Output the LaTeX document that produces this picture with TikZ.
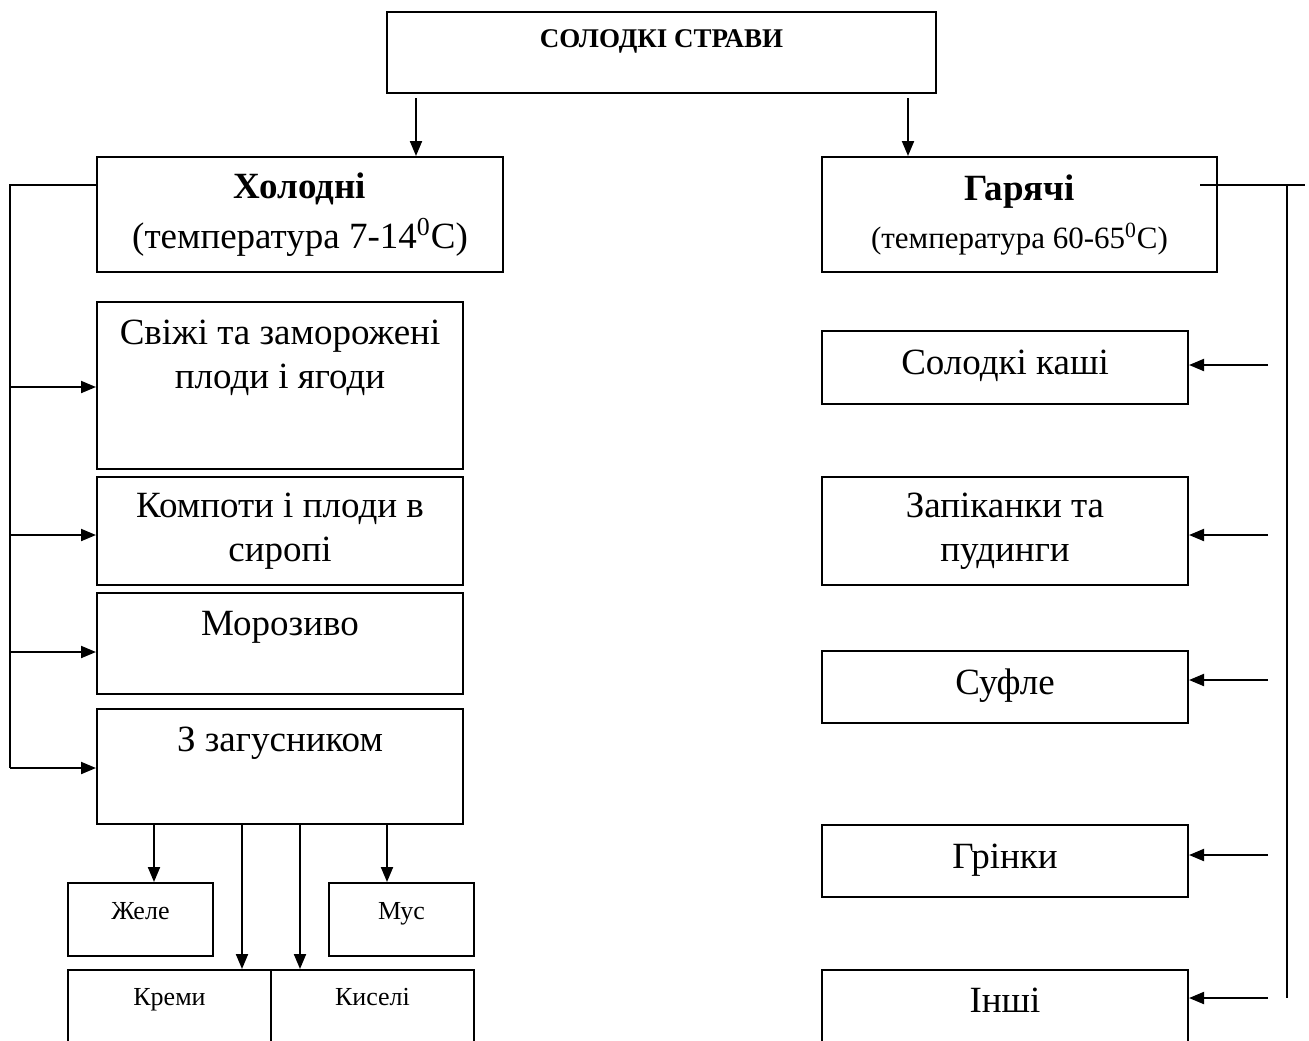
\documentclass[tikz,border=0pt]{standalone}
\usepackage{fontspec}
\setmainfont{Liberation Serif}
\usetikzlibrary{calc,arrows.meta}
\definecolor{ink}{HTML}{000000}
\tikzset{
  box/.style={draw=ink, line width=1pt, inner sep=0pt, align=center},
  con/.style={draw=ink, line width=1pt},
  arr/.style={con, -{Triangle[length=7.5pt,width=6pt]}},
  lab/.style={text=ink, font=\fontsize{18.5}{22}\selectfont, align=center},
  labs/.style={text=ink, font=\fontsize{13}{15}\selectfont, text height=0.95em, text depth=0.2em},
  one/.style={text height=0.9em, text depth=0.2em},
}
\begin{document}
\begin{tikzpicture}[x=0.5pt,y=-0.5pt]
  \useasboundingbox (0,0) rectangle (1309,1040);
  \clip (0,0) rectangle (1309,1040);
  % top and the two groups
  \node[box, minimum width=274.5pt, minimum height=40.5pt] (top) at (661.5,52.5) {};
  \node[labs, font=\fontsize{13.5}{15}\selectfont\bfseries] (top-t) at (661.5,40) {СОЛОДКІ СТРАВИ};
  \node[box, lab, minimum width=203pt, minimum height=57.5pt] (cold) at (300,214.5)
    {\textbf{Холодні}\\[3pt](температура 7-14\textsuperscript{0}C)};
  \node[box, lab, minimum width=197.5pt, minimum height=57.5pt] (hot) at (1019.5,214.5)
    {\textbf{Гарячі}\\[2pt]{\fontsize{15.5}{18}\selectfont(температура 60-65\textsuperscript{0}C)}};
  \coordinate (t1) at (416,98);
  \coordinate (t2) at (908,98);
  \draw[arr] (t1) -- (t1 |- cold.north);
  \draw[arr] (t2) -- (t2 |- hot.north);
  % cold dishes
  \node[box, minimum width=183pt, minimum height=83.5pt] (fresh) at (280,385.5) {};
  \node[lab] (fresh-t) at (280,358) {Свіжі та заморожені\\плоди і ягоди};
  \node[box, lab, minimum width=183pt, minimum height=54pt] (comp) at (280,531) {Компоти і плоди в\\сиропі};
  \node[box, minimum width=183pt, minimum height=50.5pt] (ice) at (280,643.5) {};
  \node[lab, one] (ice-t) at (280,628) {Морозиво};
  \node[box, minimum width=183pt, minimum height=57.5pt] (thick) at (280,766.5) {};
  \node[lab, one] (thick-t) at (280,744) {З загусником};
  \node[box, minimum width=72.5pt, minimum height=36.5pt] (jelly) at (140.5,919.5) {};
  \node[labs] (jelly-t) at (140.5,912) {Желе};
  \node[box, minimum width=72.5pt, minimum height=36.5pt] (mousse) at (401.5,919.5) {};
  \node[labs] (mousse-t) at (401.5,912) {Мус};
  \node[box, minimum width=101.5pt, minimum height=45pt] (cream) at (169.5,1015) {};
  \node[labs] (cream-t) at (169.5,998) {Креми};
  \node[box, minimum width=101.5pt, minimum height=45pt] (kissel) at (372.5,1015) {};
  \node[labs] (kissel-t) at (372.5,998) {Киселі};
  \coordinate (lb) at (10,185);
  \draw[con] (cold.west |- lb) -- (lb) -- (10,768);
  \foreach \n/\y in {fresh/387,comp/535,ice/652,thick/768}
    \draw[arr] (10,\y) -- (\n.west |- 0,\y);
  \foreach \n/\x in {jelly/154,cream/242,kissel/300,mousse/387}
    \draw[arr] (thick.south -| \x,0) -- (\n.north -| \x,0);
  % hot dishes
  \node[box, lab, one, minimum width=183pt, minimum height=36.5pt] (porr) at (1005,367.5) {Солодкі каші};
  \node[box, lab, minimum width=183pt, minimum height=54pt] (bake) at (1005,531) {Запіканки та\\пудинги};
  \node[box, lab, one, minimum width=183pt, minimum height=36pt] (souf) at (1005,687) {Суфле};
  \node[box, lab, one, minimum width=183pt, minimum height=36pt] (toast) at (1005,861) {Грінки};
  \node[box, minimum width=183pt, minimum height=45pt] (other) at (1005,1015) {};
  \node[lab, one] (other-t) at (1005,1005) {Інші};
  \coordinate (rb) at (1287,185);
  \draw[con] (1200,185) -- (1305,185);
  \draw[con] (rb) -- (1287,998);
  \foreach \n/\y in {porr/365,bake/535,souf/680,toast/855,other/998}
    \draw[arr] (1268,\y) -- (\n.east |- 0,\y);
\end{tikzpicture}
\end{document}
